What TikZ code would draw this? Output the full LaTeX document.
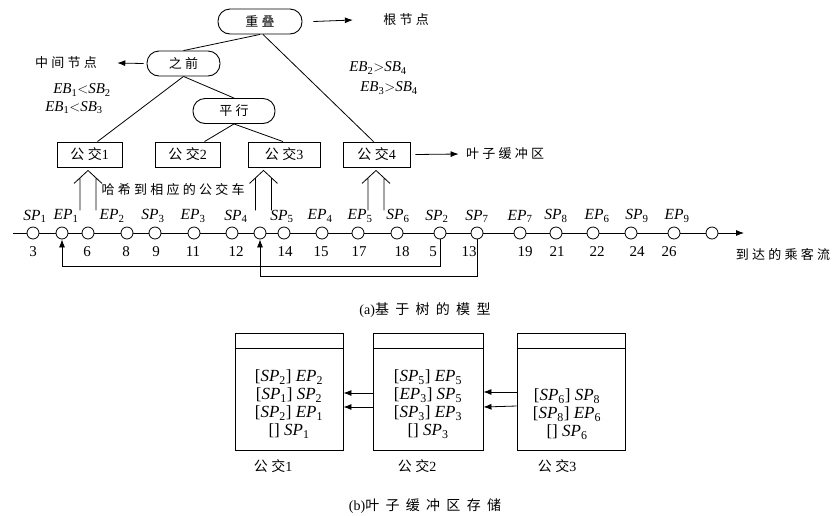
\documentclass[tikz,border=0pt]{standalone}
\usepackage{fontspec}
\setmainfont{Liberation Serif}
\newfontfamily\cjk[LetterSpace=25]{Noto Sans CJK SC}
\newfontfamily\cjkcap[LetterSpace=45]{Noto Sans CJK SC}
\usetikzlibrary{arrows.meta}
\newcommand{\ev}[2]{\textit{#1}\textsubscript{#2}}
\begin{document}
\begin{tikzpicture}[x=1pt,y=-1pt,
  line width=0.8pt,
  pill/.style={draw, line width=0.9pt, rounded corners=12pt, minimum height=25pt, inner sep=0pt, font=\fontsize{13}{13}\selectfont\cjk},
  leaf/.style={draw, line width=0.9pt, minimum height=25pt, inner sep=0pt, font=\fontsize{14}{14}\selectfont},
  ev/.style={circle, draw, fill=white, minimum size=12pt, inner sep=0pt},
  lab/.style={inner sep=0pt, font=\fontsize{15.5}{15.5}\selectfont},
  num/.style={inner sep=0pt, font=\fontsize{15}{15}\selectfont},
  cn/.style={inner sep=0pt, font=\fontsize{13}{13}\selectfont\cjk},
  tip/.style={-{Latex[length=8pt,width=6pt]}},
  hasharr/.pic={\draw[line width=0.8pt] (-8,40) -- (-8,7.4) (8,40) -- (8,7.4) (-14,13) -- (0,0) -- (14,13);},
  buf/.style={draw, line width=0.9pt, minimum height=117pt, inner sep=0pt},
  buftext/.style={inner sep=0pt, align=center, font=\fontsize{17}{18}\selectfont}
]
\useasboundingbox (0,0) rectangle (835,515);

% tree
\node[pill, minimum width=84pt] (root) at (260,21.5) {重叠};
\node[pill, minimum width=73pt] (before) at (183.5,63.5) {之前};
\node[pill, minimum width=82pt] (par) at (234,111) {平行};
\node[leaf, minimum width=65pt] (b1) at (89.5,154.5) {{\cjk 公交}1};
\node[leaf, minimum width=65pt] (b2) at (187.5,154.5) {{\cjk 公交}2};
\node[leaf, minimum width=72pt] (b3) at (284,154.5) {{\cjk 公交}3};
\node[leaf, minimum width=67pt] (b4) at (376.5,154.5) {{\cjk 公交}4};

\draw (root.south) -- (before.north);
\draw ([xshift=3pt]root.south) -- ([xshift=-3pt]b4.north);
\draw (before.south) -- ([xshift=8pt]b1.north);
\draw (before.south) -- (par.north);
\draw (par.south) -- ([xshift=17pt]b2.north);
\draw (par.south) -- ([xshift=-1pt]b3.north);

\node[cn] (rootlbl) at (406,20) {根节点};
\node[cn] (midlbl) at (66,63) {中间节点};
\node[cn] (leaflbl) at (505,154) {叶子缓冲区};
\draw[tip] ([xshift=11pt]root.east) -- ([xshift=-30pt]rootlbl.west);
\draw[tip] ([xshift=-3pt]before.west) -- ([xshift=20pt]midlbl.east);
\draw[tip] ([xshift=5pt]b4.east) -- ([xshift=-7pt]leaflbl.west);

\node[num] (c1a) at (82,90) {\ev{EB}{1}$<$\ev{SB}{2}};
\node[num] (c1b) at (74,108) {\ev{EB}{1}$<$\ev{SB}{3}};
\node[num] (c2a) at (378,68) {\ev{EB}{2}$>$\ev{SB}{4}};
\node[num] (c2b) at (389,88) {\ev{EB}{3}$>$\ev{SB}{4}};

% event line
\coordinate (lstart) at (13,233);
\coordinate (lend) at (744,233);
\draw[tip] (lstart) -- (lend);
\foreach \i/\x in {1/33,2/62,3/88,4/127,5/155,6/194,7/232,8/260,9/284,10/322,11/358,12/397,13/440,14/477,15/520,16/556,17/593,18/631,19/674,20/712}
  \node[ev] (c\i) at (\x,233) {};

\foreach \n/\x/\a/\s in {l1/35/SP/1,l2/66/EP/1,l3/112/EP/2,l4/153/SP/3,l5/193/EP/3,l6/236/SP/4,l7/282/SP/5,l8/320/EP/4,l9/360/EP/5,l10/398/SP/6,l11/437/SP/2,l12/477/SP/7,l13/520/EP/7,l14/556/SP/8,l15/597/EP/6,l16/637/SP/9,l17/677/EP/9}
  \node[lab] (\n) at (\x,216) {\ev{\a}{\s}};

\foreach \n/\x/\t in {n1/33/3,n2/87/6,n3/126/8,n4/156/9,n5/193/11,n6/236/12,n7/285/14,n8/321/15,n9/359/17,n10/402/18,n11/433/5,n12/469/13,n13/525/19,n14/557/21,n15/597/22,n16/637/24,n17/669/26}
  \node[num] (\n) at (\x,252) {\t};

\node[cn] (flow) at (783,254) {到达的乘客流};

\draw[tip] (c13.south) -- (c13.south |- 0,266) -| (c2.south);
\draw[tip] (c14.south) -- (c14.south |- 0,276) -| (c8.south);

% hash arrows
\pic at ([xshift=-1.5pt,yshift=-3pt]b1.south) {hasharr};
\pic at ([xshift=-20.5pt,yshift=-3pt]b3.south) {hasharr};
\pic at ([xshift=-0.5pt,yshift=-3pt]b4.south) {hasharr};
\node[cn] (hashlbl) at (173,190) {哈希到相应的公交车};

\node[inner sep=0pt, font=\fontsize{14}{14}\selectfont] (capa) at (425,310) {(a){\cjkcap 基于树的模型}};

% buffers
\node[buf, minimum width=108pt] (bx1) at (289,391.5) {};
\node[buf, minimum width=110pt] (bx2) at (428,391.5) {};
\node[buf, minimum width=108pt] (bx3) at (571,391.5) {};
\foreach \b in {bx1,bx2,bx3}
  \draw[line width=0.9pt] ([yshift=-16pt]\b.north west) -- ([yshift=-16pt]\b.north east);

\node[buftext] (t1) at (289,404) {{[}\ev{SP}{2}{]} \ev{EP}{2}\\{[}\ev{SP}{1}{]} \ev{SP}{2}\\{[}\ev{SP}{2}{]} \ev{EP}{1}\\{[]} \ev{SP}{1}};
\node[buftext] (t2) at (428,404) {{[}\ev{SP}{5}{]} \ev{EP}{5}\\{[}\ev{EP}{3}{]} \ev{SP}{5}\\{[}\ev{SP}{3}{]} \ev{EP}{3}\\{[]} \ev{SP}{3}};
\node[buftext] (t3) at (567,414) {{[}\ev{SP}{6}{]} \ev{SP}{8}\\{[}\ev{SP}{8}{]} \ev{EP}{6}\\{[]} \ev{SP}{6}};

\draw[tip] (bx2.west |- 0,393) -- (bx1.east |- 0,393);
\draw[tip] (bx2.west |- 0,407) -- (bx1.east |- 0,407);
\draw[tip] (bx3.west |- 0,392) -- (bx2.east |- 0,392);
\draw[tip] (bx3.west |- 0,406) -- (bx2.east |- 0,407);

\node[inner sep=0pt, font=\fontsize{14}{14}\selectfont] (bl1) at (273,466) {{\cjk 公交}1};
\node[inner sep=0pt, font=\fontsize{14}{14}\selectfont] (bl2) at (417,466) {{\cjk 公交}2};
\node[inner sep=0pt, font=\fontsize{14}{14}\selectfont] (bl3) at (557,466) {{\cjk 公交}3};

\node[inner sep=0pt, font=\fontsize{14}{14}\selectfont] (capb) at (425,506) {(b){\cjkcap 叶子缓冲区存储}};
\end{tikzpicture}
\end{document}
